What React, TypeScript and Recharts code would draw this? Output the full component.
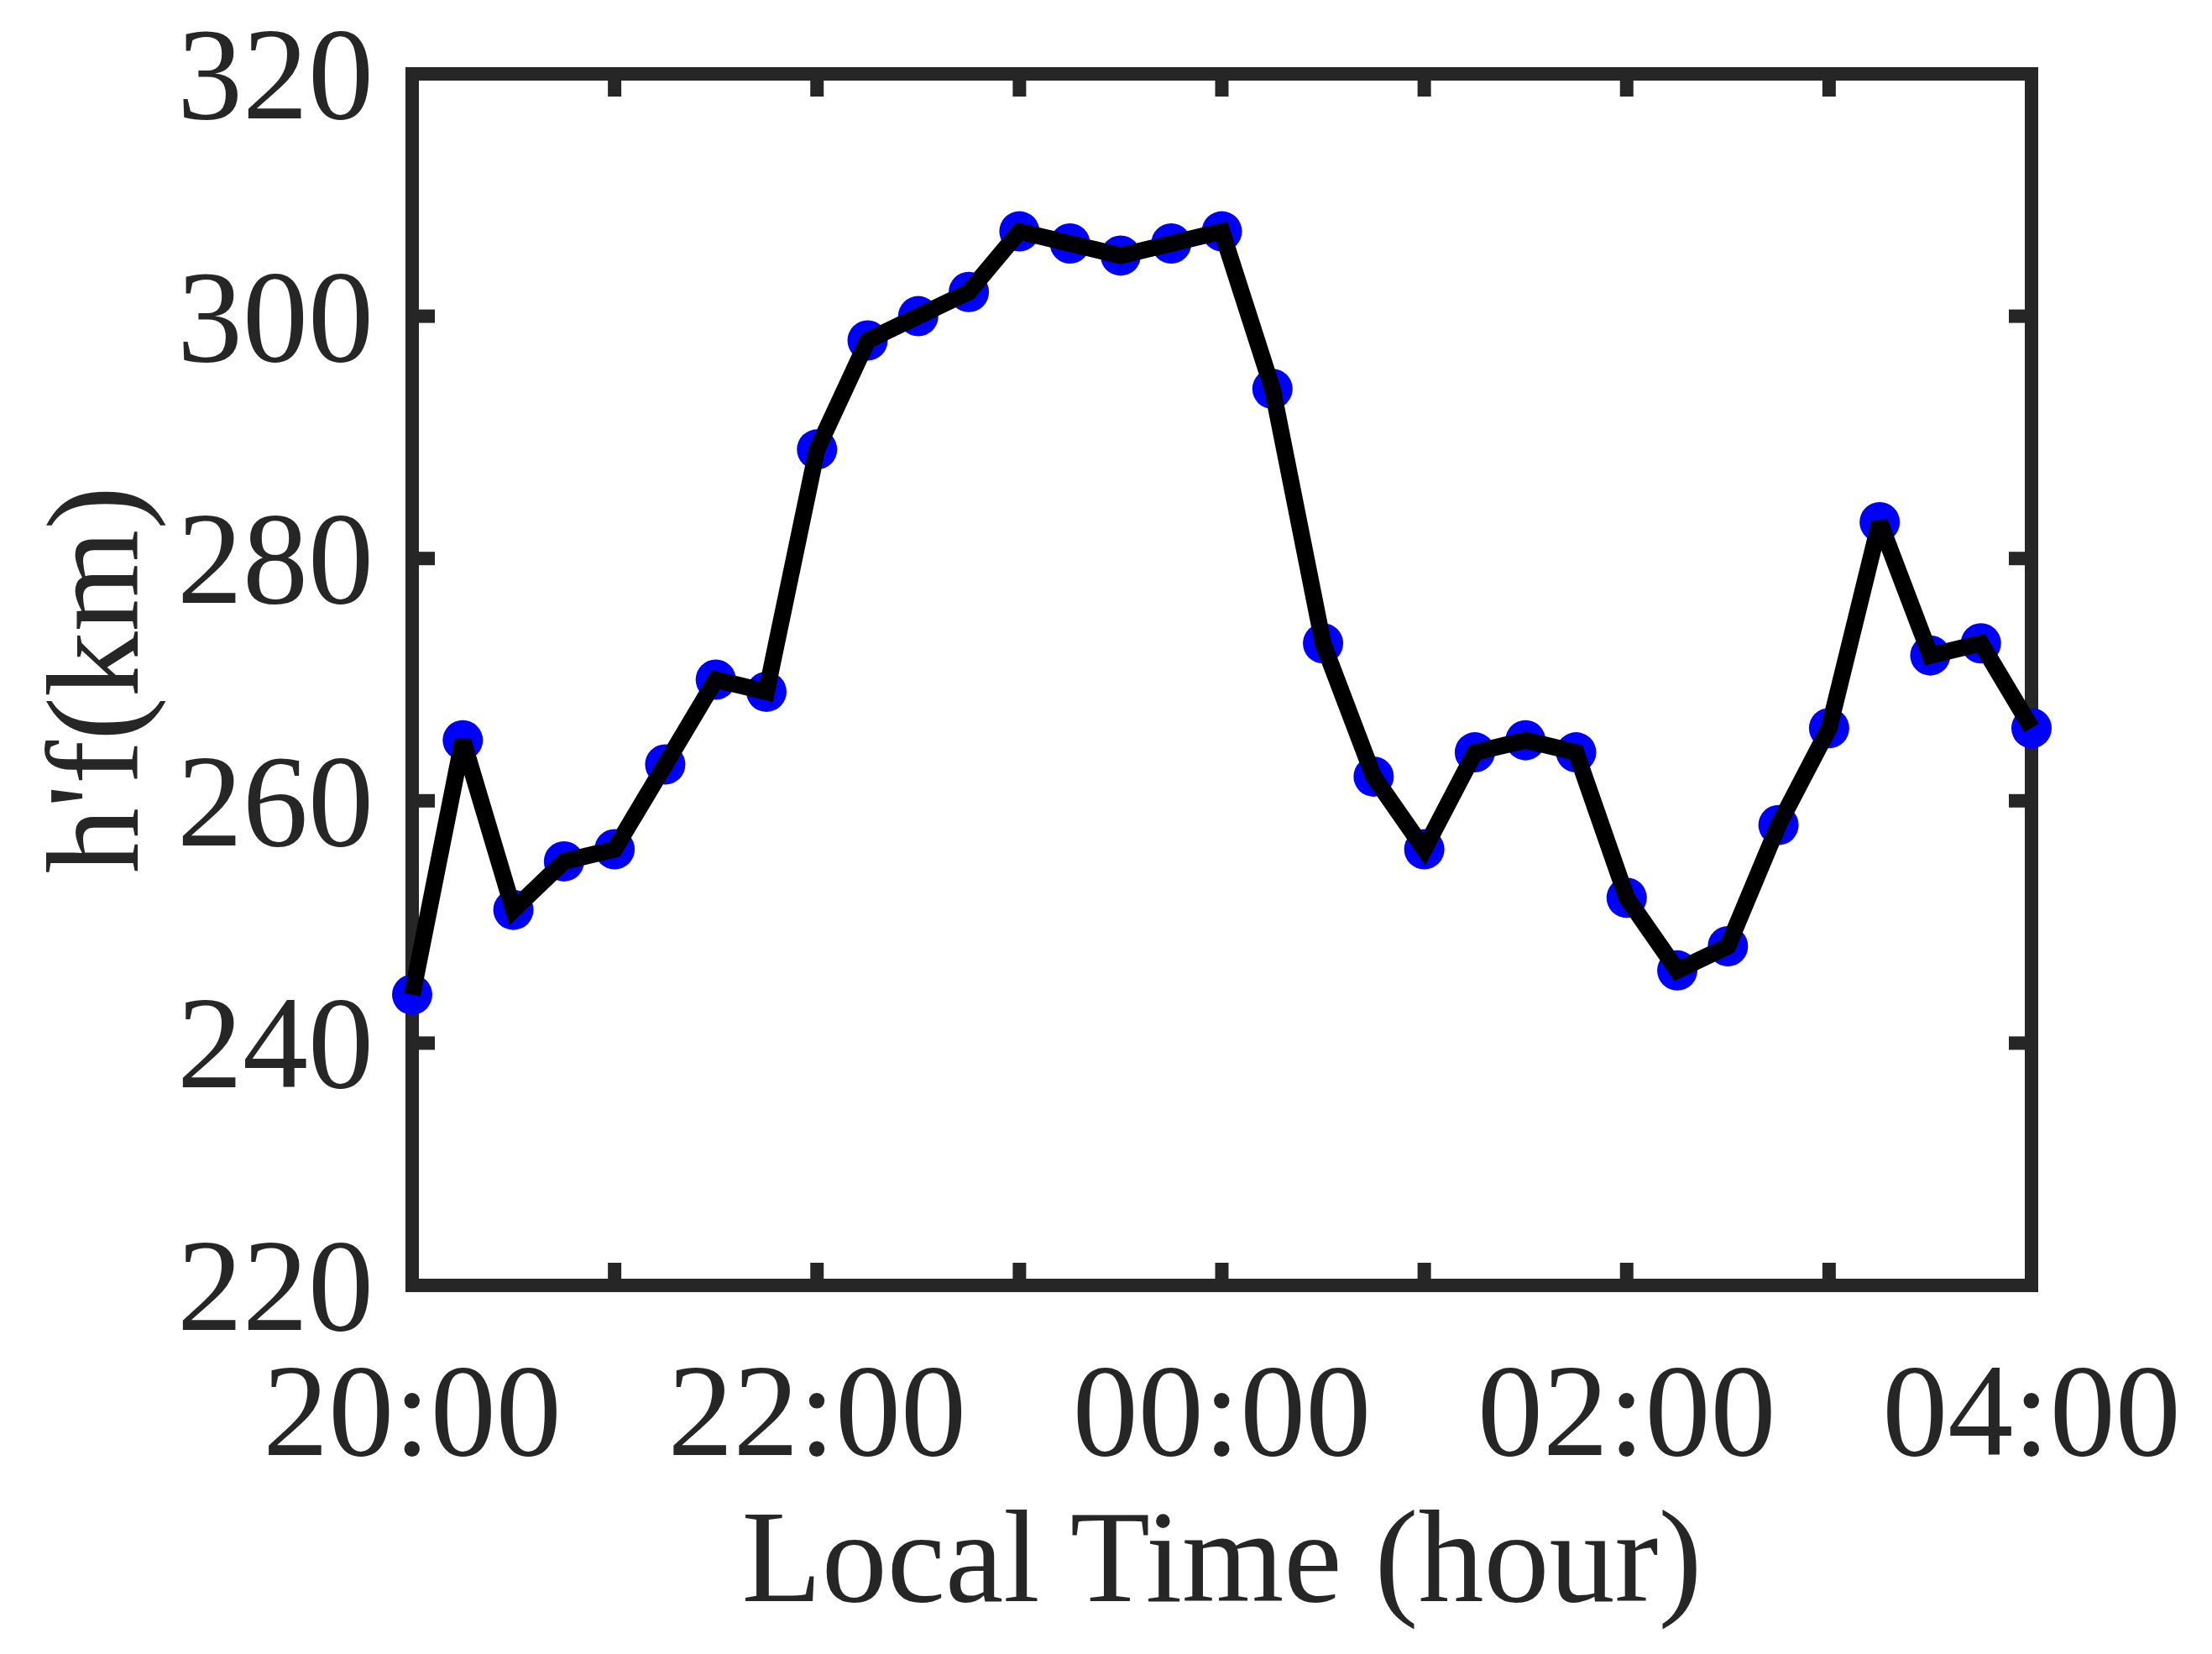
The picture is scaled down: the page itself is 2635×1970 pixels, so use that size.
import { LineChart, Line, XAxis, YAxis, ReferenceArea } from "recharts";

const times = [
  "20:00", "20:15", "20:30", "20:45", "21:00", "21:15", "21:30", "21:45",
  "22:00", "22:15", "22:30", "22:45", "23:00", "23:15", "23:30", "23:45",
  "00:00", "00:15", "00:30", "00:45", "01:00", "01:15", "01:30", "01:45",
  "02:00", "02:15", "02:30", "02:45", "03:00", "03:15", "03:30", "03:45",
  "04:00",
];

const hf = [
  244, 265, 251, 255, 256, 263, 270, 269,
  289, 298, 300, 302, 307, 306, 305, 306,
  307, 294, 273, 262, 256, 264, 265, 264,
  252, 246, 248, 258, 266, 283, 272, 273,
  266,
];

const hourTicks = [0, 4, 8, 12, 16, 20, 24, 28, 32];
const yTicks = [220, 240, 260, 280, 300, 320];

const data = times.map((time, i) => ({ t: i, time, hf: hf[i] }));

const AXIS = "#262626";
const FONT = "'Liberation Serif', 'Times New Roman', serif";
const FS = 156;

function XTick({ x, y, payload }: any) {
  const label = times[payload.value];
  const hour = parseInt(label, 10);
  if (hour % 2 !== 0) return <g />;
  return (
    <text x={x} y={y} dy="0.71em" textAnchor="middle" fill={AXIS} fontSize={FS} fontFamily={FONT}>
      {label}
    </text>
  );
}

function YTick({ x, y, payload }: any) {
  return (
    <text x={x} y={y} dy="0.34em" textAnchor="end" fill={AXIS} fontSize={FS} fontFamily={FONT}>
      {payload.value}
    </text>
  );
}

// mirrored axes only need tick marks
const NoLabel = () => <g />;

export default function App() {
  const tickLine = { stroke: AXIS, strokeWidth: 16 };
  return (
    <div style={{ position: "absolute", left: 0, top: 0, background: "#fff" }}>
      <LineChart width={2635} height={1970} data={data} margin={{ top: 0, right: 0, bottom: 0, left: 0 }}>
        <XAxis
          dataKey="t"
          type="number"
          domain={[0, 32]}
          ticks={hourTicks}
          interval={0}
          axisLine={false}
          tickLine={tickLine}
          tickSize={-27}
          tickMargin={118}
          tick={<XTick />}
          height={439}
          label={{
            value: "Local Time (hour)",
            position: "insideBottom",
            offset: 63,
            fill: AXIS,
            fontSize: FS,
            fontFamily: FONT,
          }}
        />
        <XAxis
          xAxisId="top"
          orientation="top"
          dataKey="t"
          type="number"
          domain={[0, 32]}
          allowDataOverflow
          ticks={hourTicks}
          interval={0}
          axisLine={false}
          tickLine={tickLine}
          tickSize={-27}
          tick={<NoLabel />}
          height={88}
        />
        <YAxis
          type="number"
          domain={[220, 320]}
          ticks={yTicks}
          interval={0}
          axisLine={false}
          tickLine={tickLine}
          tickSize={-27}
          tickMargin={73}
          tick={<YTick />}
          width={491}
          label={{
            value: "h'f(km)",
            angle: -90,
            position: "insideLeft",
            offset: 109,
            fill: AXIS,
            fontSize: FS,
            fontFamily: FONT,
            style: { textAnchor: "middle" },
          }}
        />
        <YAxis
          yAxisId="right"
          orientation="right"
          type="number"
          domain={[220, 320]}
          allowDataOverflow
          ticks={yTicks}
          interval={0}
          axisLine={false}
          tickLine={tickLine}
          tickSize={-27}
          tick={<NoLabel />}
          width={215}
        />
        <ReferenceArea
          x1={0}
          x2={32}
          y1={220}
          y2={320}
          fill="none"
          stroke={AXIS}
          strokeWidth={16}
          ifOverflow="visible"
        />
        <Line
          dataKey="hf"
          stroke="none"
          dot={{ r: 24, fill: "#0000ff", stroke: "none" }}
          activeDot={false}
          isAnimationActive={false}
          zIndex={600}
        />
        <Line
          dataKey="hf"
          stroke="#000"
          strokeWidth={20}
          strokeLinejoin="miter"
          strokeMiterlimit={2}
          dot={false}
          activeDot={false}
          isAnimationActive={false}
          zIndex={1200}
        />
      </LineChart>
    </div>
  );
}
